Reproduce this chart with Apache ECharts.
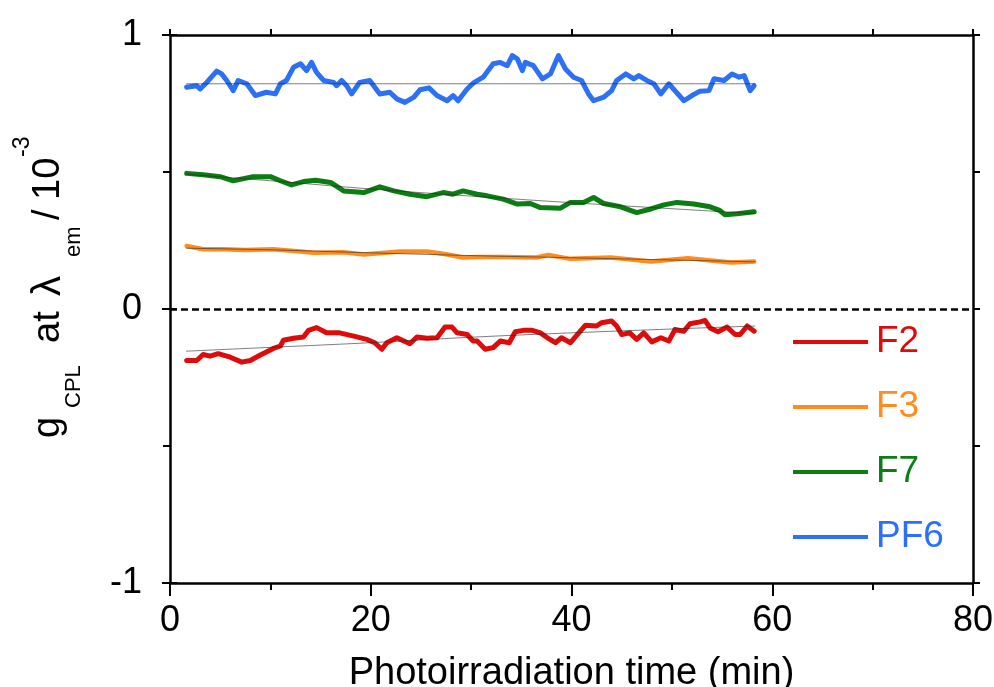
<!DOCTYPE html>
<html>
<head>
<meta charset="utf-8">
<script src="https://cdn.jsdelivr.net/npm/echarts@6/dist/echarts.min.js"></script>
<style>
  html, body { margin: 0; padding: 0; background: #fff; }
  #chart { width: 994px; height: 687px; }
</style>
</head>
<body>
<div id="chart"></div>
<script>
// series names + colours
const names = ['F2', 'F3', 'F7', 'PF6'];
const colors = ['#de0b0b', '#ff8c1f', '#0b7d12', '#2b70f5'];

// time (min) / g value (x10^-3)
const f2T = [1.66,2.66,3.3,4.0,4.8,6.0,7.15,8.0,9.0,10.3,11.0,11.3,12.3,13.3,13.8,14.6,15.6,16.9,18.3,19.6,20.4,21.1,21.6,22.6,23.3,23.9,24.6,25.6,26.6,27.4,28.1,28.6,29.6,30.2,30.6,31.4,32.2,32.9,33.8,34.4,35.2,36.1,36.9,37.6,38.4,39.0,39.9,40.6,41.4,42.5,43.0,44.0,44.5,45.0,45.8,46.5,47.2,48.0,48.9,49.7,50.3,51.2,51.8,52.8,53.3,53.8,54.6,55.5,56.3,56.8,57.5,58.2];
const f2V = [-.188,-.188,-.166,-.172,-.163,-.176,-.194,-.188,-.168,-.144,-.135,-.114,-.107,-.102,-.078,-.068,-.087,-.087,-.099,-.111,-.123,-.147,-.123,-.105,-.117,-.127,-.102,-.107,-.105,-.066,-.066,-.087,-.093,-.117,-.117,-.147,-.141,-.117,-.123,-.083,-.078,-.078,-.087,-.105,-.123,-.105,-.123,-.093,-.059,-.062,-.05,-.044,-.062,-.093,-.087,-.111,-.087,-.12,-.105,-.117,-.075,-.081,-.054,-.047,-.042,-.069,-.083,-.066,-.093,-.093,-.062,-.081];

const f3T = [1.66,3.3,5.3,7.5,10.3,13.0,14.3,17.3,19.3,22.9,25.6,27.5,29.2,30.6,33.2,36.5,37.7,39.9,43.9,47.9,51.6,55.9,58.2];
const f3V = [.230,.218,.218,.215,.218,.21,.205,.207,.199,.21,.21,.2,.188,.19,.19,.188,.197,.183,.188,.173,.185,.17,.173];

const f7T = [1.66,3.3,5.0,6.3,8.3,10.0,11.0,12.1,13.3,14.5,16.0,17.3,19.3,20.9,22.3,23.9,25.6,27.2,28.2,29.2,30.6,31.6,33.2,34.6,35.9,36.9,38.9,39.9,41.2,42.2,43.2,44.9,46.5,47.9,49.2,50.5,52.2,53.8,54.7,55.3,56.5,58.2];
const f7V = [.495,.49,.483,.468,.483,.483,.468,.453,.465,.47,.462,.431,.425,.446,.431,.419,.41,.425,.419,.431,.419,.413,.401,.383,.385,.37,.368,.389,.389,.407,.385,.373,.352,.365,.38,.389,.383,.373,.361,.344,.348,.355];

const pf6T = [1.66,2.66,3.0,3.66,4.65,5.15,5.65,6.3,6.8,7.65,8.5,9.6,10.5,11.0,11.6,12.3,13.0,13.6,14.1,14.6,15.3,16.3,16.6,17.1,17.6,18.1,18.9,19.9,20.9,21.9,22.6,23.4,24.3,24.9,25.8,26.6,27.6,28.2,28.7,29.6,30.2,31.2,32.2,32.9,33.6,34.1,34.6,35.1,35.4,36.2,37.1,37.9,38.7,39.4,40.2,41.0,41.7,42.2,43.2,44.0,44.5,45.4,46.2,46.7,47.5,48.2,48.9,49.7,50.3,51.2,52.0,52.8,53.7,54.2,55.2,56.0,56.7,57.2,57.8,58.2];
const pf6V = [.809,.815,.803,.827,.868,.858,.834,.797,.834,.822,.779,.791,.785,.822,.834,.882,.895,.870,.90,.864,.834,.827,.815,.834,.815,.785,.827,.834,.785,.791,.767,.754,.773,.80,.807,.779,.76,.779,.76,.803,.824,.846,.895,.90,.888,.925,.913,.870,.90,.888,.84,.858,.925,.876,.846,.834,.785,.76,.773,.797,.834,.858,.84,.852,.834,.822,.785,.822,.797,.76,.779,.795,.797,.84,.834,.858,.846,.852,.797,.815];

// thin fit curves
const fitT = [1.6, 10, 20, 30, 40, 50, 58.3];
const fitF2 = [-.154, -.14, -.123, -.103, -.087, -.073, -.062];
const fitF3 = [.222, .216, .205, .195, .187, .179, .172];
const fitF7 = [.492, .468, .438, .412, .388, .366, .348];
const fitPF6 = [.822, .822, .822, .822, .822, .822, .822];

const xTicks = [0, 20, 40, 60, 80];
const yTicks = [-1, 0, 1];

const zip = (a, b) => a.map((t, i) => [t, b[i]]);
const FONT = '"Liberation Sans", Arial, Helvetica, sans-serif';

const dataSets = [zip(f2T, f2V), zip(f3T, f3V), zip(f7T, f7V), zip(pf6T, pf6V)];
const fitSets = [fitF2, fitF3, fitF7, fitPF6].map(v => zip(fitT, v));

const series = [];
dataSets.forEach((d, i) => {
    series.push({
        name: names[i], type: 'line', data: d, symbol: 'none',
        lineStyle: { color: colors[i], width: i === 1 ? 4.5 : 5, join: 'round', cap: 'round' },
        itemStyle: { color: colors[i] },
        z: 3, silent: true, animation: false
    });
});
fitSets.forEach((d, i) => {
    series.push({
        name: 'fit' + i, type: 'line', data: d, symbol: 'none', smooth: 0.3,
        lineStyle: { color: 'rgba(40,40,40,0.6)', width: 1 },
        z: 4, silent: true, animation: false
    });
});
// zero line
series[0].markLine = {
    silent: true, symbol: 'none', label: { show: false },
    lineStyle: { color: '#000', type: [7, 4], width: 2.5 },
    data: [{ yAxis: 0 }]
};

const chart = echarts.init(document.getElementById('chart'));

const axisLine = { show: true, onZero: false, lineStyle: { color: '#000', width: 2.5 } };
const tickStyle = { color: '#000', width: 2 };

// y axis title pieces, rotated (x = centre line, y = start, reads upward)
const yTitle = [
    { t: 'g', x: 49, y: 438, s: 38 },
    { t: 'CPL', x: 74, y: 408, s: 22 },
    { t: 'at', x: 49, y: 343, s: 38 },
    { t: 'λ', x: 49, y: 296, s: 40 },
    { t: 'em', x: 74, y: 257, s: 22 },
    { t: '/', x: 49, y: 220, s: 38 },
    { t: '10', x: 49, y: 200, s: 38 },
    { t: '-3', x: 23, y: 157, s: 23 }
];

chart.setOption({
    animation: false,
    backgroundColor: '#fff',
    grid: { left: 170, right: 21, top: 35, bottom: 104, outerBoundsMode: 'none', containLabel: false },
    xAxis: [{
        type: 'value', min: 0, max: 80, interval: 20,
        name: 'Photoirradiation time (min)', nameLocation: 'middle', nameGap: 72,
        nameTextStyle: { fontSize: 38, color: '#000', fontFamily: FONT },
        axisLine: axisLine,
        axisTick: { show: true, length: 13, lineStyle: tickStyle },
        minorTick: { show: true, splitNumber: 2, length: 7, lineStyle: tickStyle },
        axisLabel: { fontSize: 36, color: '#000', fontFamily: FONT, margin: 20,
            formatter: v => xTicks.includes(v) ? String(v) : '' },
        splitLine: { show: false }
    }, {
        type: 'value', min: 0, max: 80, interval: 10, position: 'top',
        axisLine: axisLine,
        axisTick: { show: true, length: 6, lineStyle: tickStyle },
        axisLabel: { show: false }, splitLine: { show: false }
    }],
    yAxis: [{
        type: 'value', min: -1, max: 1, interval: 1,
        axisLine: axisLine,
        axisTick: { show: true, length: 8, lineStyle: tickStyle },
        minorTick: { show: true, splitNumber: 2, length: 7, lineStyle: tickStyle },
        axisLabel: { fontSize: 36, color: '#000', fontFamily: FONT, margin: 28,
            formatter: v => yTicks.includes(v) ? String(v) : '' },
        splitLine: { show: false }
    }, {
        type: 'value', min: -1, max: 1, interval: 0.5, position: 'right',
        axisLine: axisLine,
        axisTick: { show: true, length: 7, lineStyle: tickStyle },
        axisLabel: { show: false }, splitLine: { show: false }
    }, {
        // inner half of the crossing major ticks on the left
        type: 'value', min: -1, max: 1, interval: 1, position: 'left', offset: 0,
        axisLine: { show: false },
        axisTick: { show: true, inside: true, length: 7, lineStyle: tickStyle },
        axisLabel: { show: false }, splitLine: { show: false }
    }],
    legend: {
        data: names.map((n, i) => ({ name: n, textStyle: { color: colors[i] } })),
        orient: 'vertical', left: 793, top: 322, padding: 0,
        itemWidth: 75, itemHeight: 4, itemGap: 25, icon: 'rect',
        selectedMode: false,
        textStyle: { fontSize: 37, fontFamily: FONT, lineHeight: 40, padding: [0, 0, 0, 3] }
    },
    graphic: yTitle.map(p => ({
        type: 'text', x: p.x, y: p.y, rotation: Math.PI / 2, silent: true,
        style: { text: p.t, fontSize: p.s, fontFamily: FONT, fill: '#000',
            align: 'left', verticalAlign: 'middle' }
    })),
    series: series
});
</script>
</body>
</html>
